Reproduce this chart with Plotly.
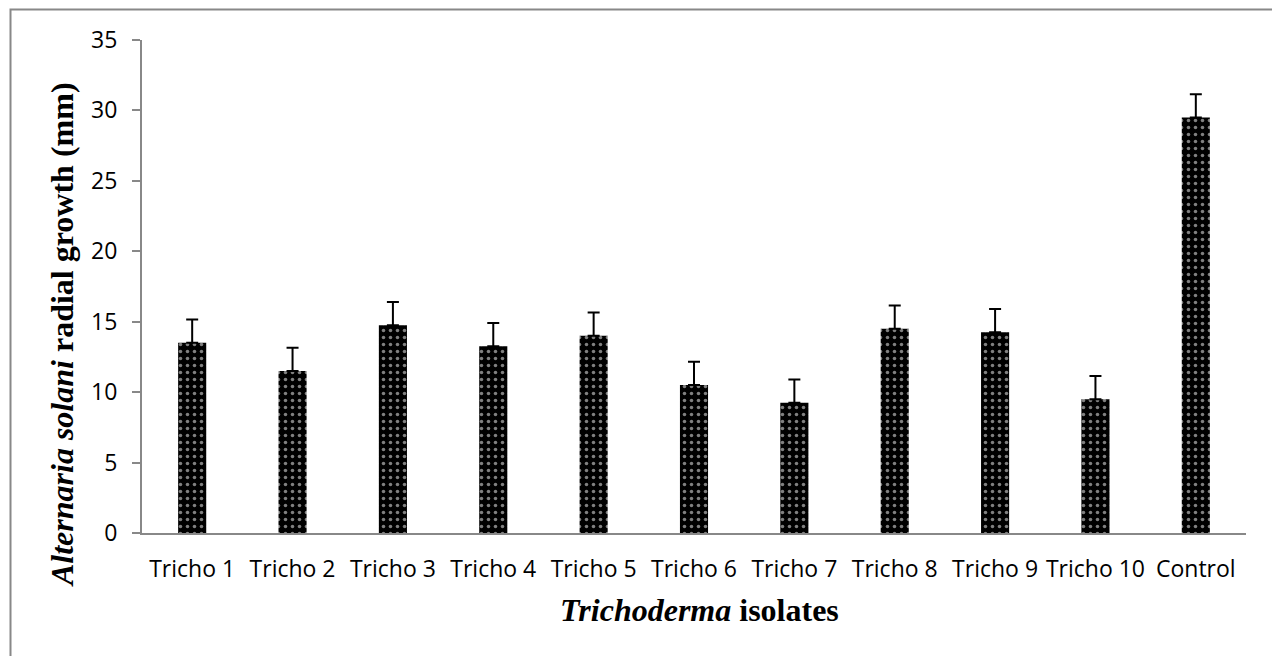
import plotly.graph_objects as go

categories = ["Tricho 1", "Tricho 2", "Tricho 3", "Tricho 4", "Tricho 5", "Tricho 6",
              "Tricho 7", "Tricho 8", "Tricho 9", "Tricho 10", "Control"]
growth_mm = [13.5, 11.5, 14.75, 13.25, 14.0, 10.5, 9.25, 14.5, 14.25, 9.5, 29.5]
error_mm = [1.65, 1.65, 1.65, 1.65, 1.65, 1.65, 1.65, 1.65, 1.65, 1.65, 1.65]
y_ticks = [0, 5, 10, 15, 20, 25, 30, 35]

# page body has an 8px margin, so work in page pixels and offset
OFF = 8
W, H = 1280 - OFF, 656 - OFF
L, T = 142 - OFF, 40 - OFF
R = W - (1246 - OFF)
B = H - (533 - OFF)
pw, ph = W - L - R, H - T - B

def px_x(x):
    return (x - OFF - L) / pw

def px_y(y):
    return (H - B - (y - OFF)) / ph

fig = go.Figure()
fig.add_trace(go.Bar(
    x=categories,
    y=growth_mm,
    marker=dict(
        color="black",
        line=dict(width=0),
        pattern=dict(shape=".", bgcolor="black", fgcolor="#ffffff", size=7, solidity=0.2),
    ),
    error_y=dict(type="data", symmetric=False, array=error_mm,
                 arrayminus=[0] * len(error_mm),
                 color="black", thickness=2, width=6),
))

axis_gray = "#888888"
fig.update_layout(
    width=W, height=H,
    margin=dict(l=L, r=R, t=T, b=B, autoexpand=False),
    paper_bgcolor="white", plot_bgcolor="white",
    showlegend=False,
    bargap=0.72,
    xaxis=dict(
        showline=True, linecolor=axis_gray, linewidth=2,
        ticks="", showgrid=False, zeroline=False, ticklabelstandoff=14,
        tickfont=dict(family="Open Sans", size=23, color="black"),
    ),
    yaxis=dict(
        range=[0, 35], tickvals=y_ticks,
        showline=True, linecolor=axis_gray, linewidth=2,
        ticks="outside", ticklen=8, tickcolor=axis_gray, tickwidth=2,
        showgrid=False, zeroline=False, ticklabelstandoff=10,
        tickfont=dict(family="Open Sans", size=23, color="black"),
    ),
    annotations=[
        dict(text="<b><i>Alternaria solani</i> radial growth (mm)</b>",
             xref="paper", yref="paper", x=px_x(62), y=px_y(335),
             xanchor="center", yanchor="middle", textangle=-90, showarrow=False,
             font=dict(family="Liberation Serif", size=32, color="black")),
        dict(text="<b><i>Trichoderma</i> isolates</b>",
             xref="paper", yref="paper", x=px_x(699), y=px_y(610),
             xanchor="center", yanchor="middle", showarrow=False,
             font=dict(family="Liberation Serif", size=32, color="black")),
    ],
    shapes=[
        dict(type="rect", xref="paper", yref="paper",
             x0=px_x(10.5), x1=px_x(1320), y0=px_y(9.5), y1=px_y(700),
             line=dict(color=axis_gray, width=2), fillcolor="rgba(0,0,0,0)", layer="below"),
    ],
)

fig.write_html("out.html")
